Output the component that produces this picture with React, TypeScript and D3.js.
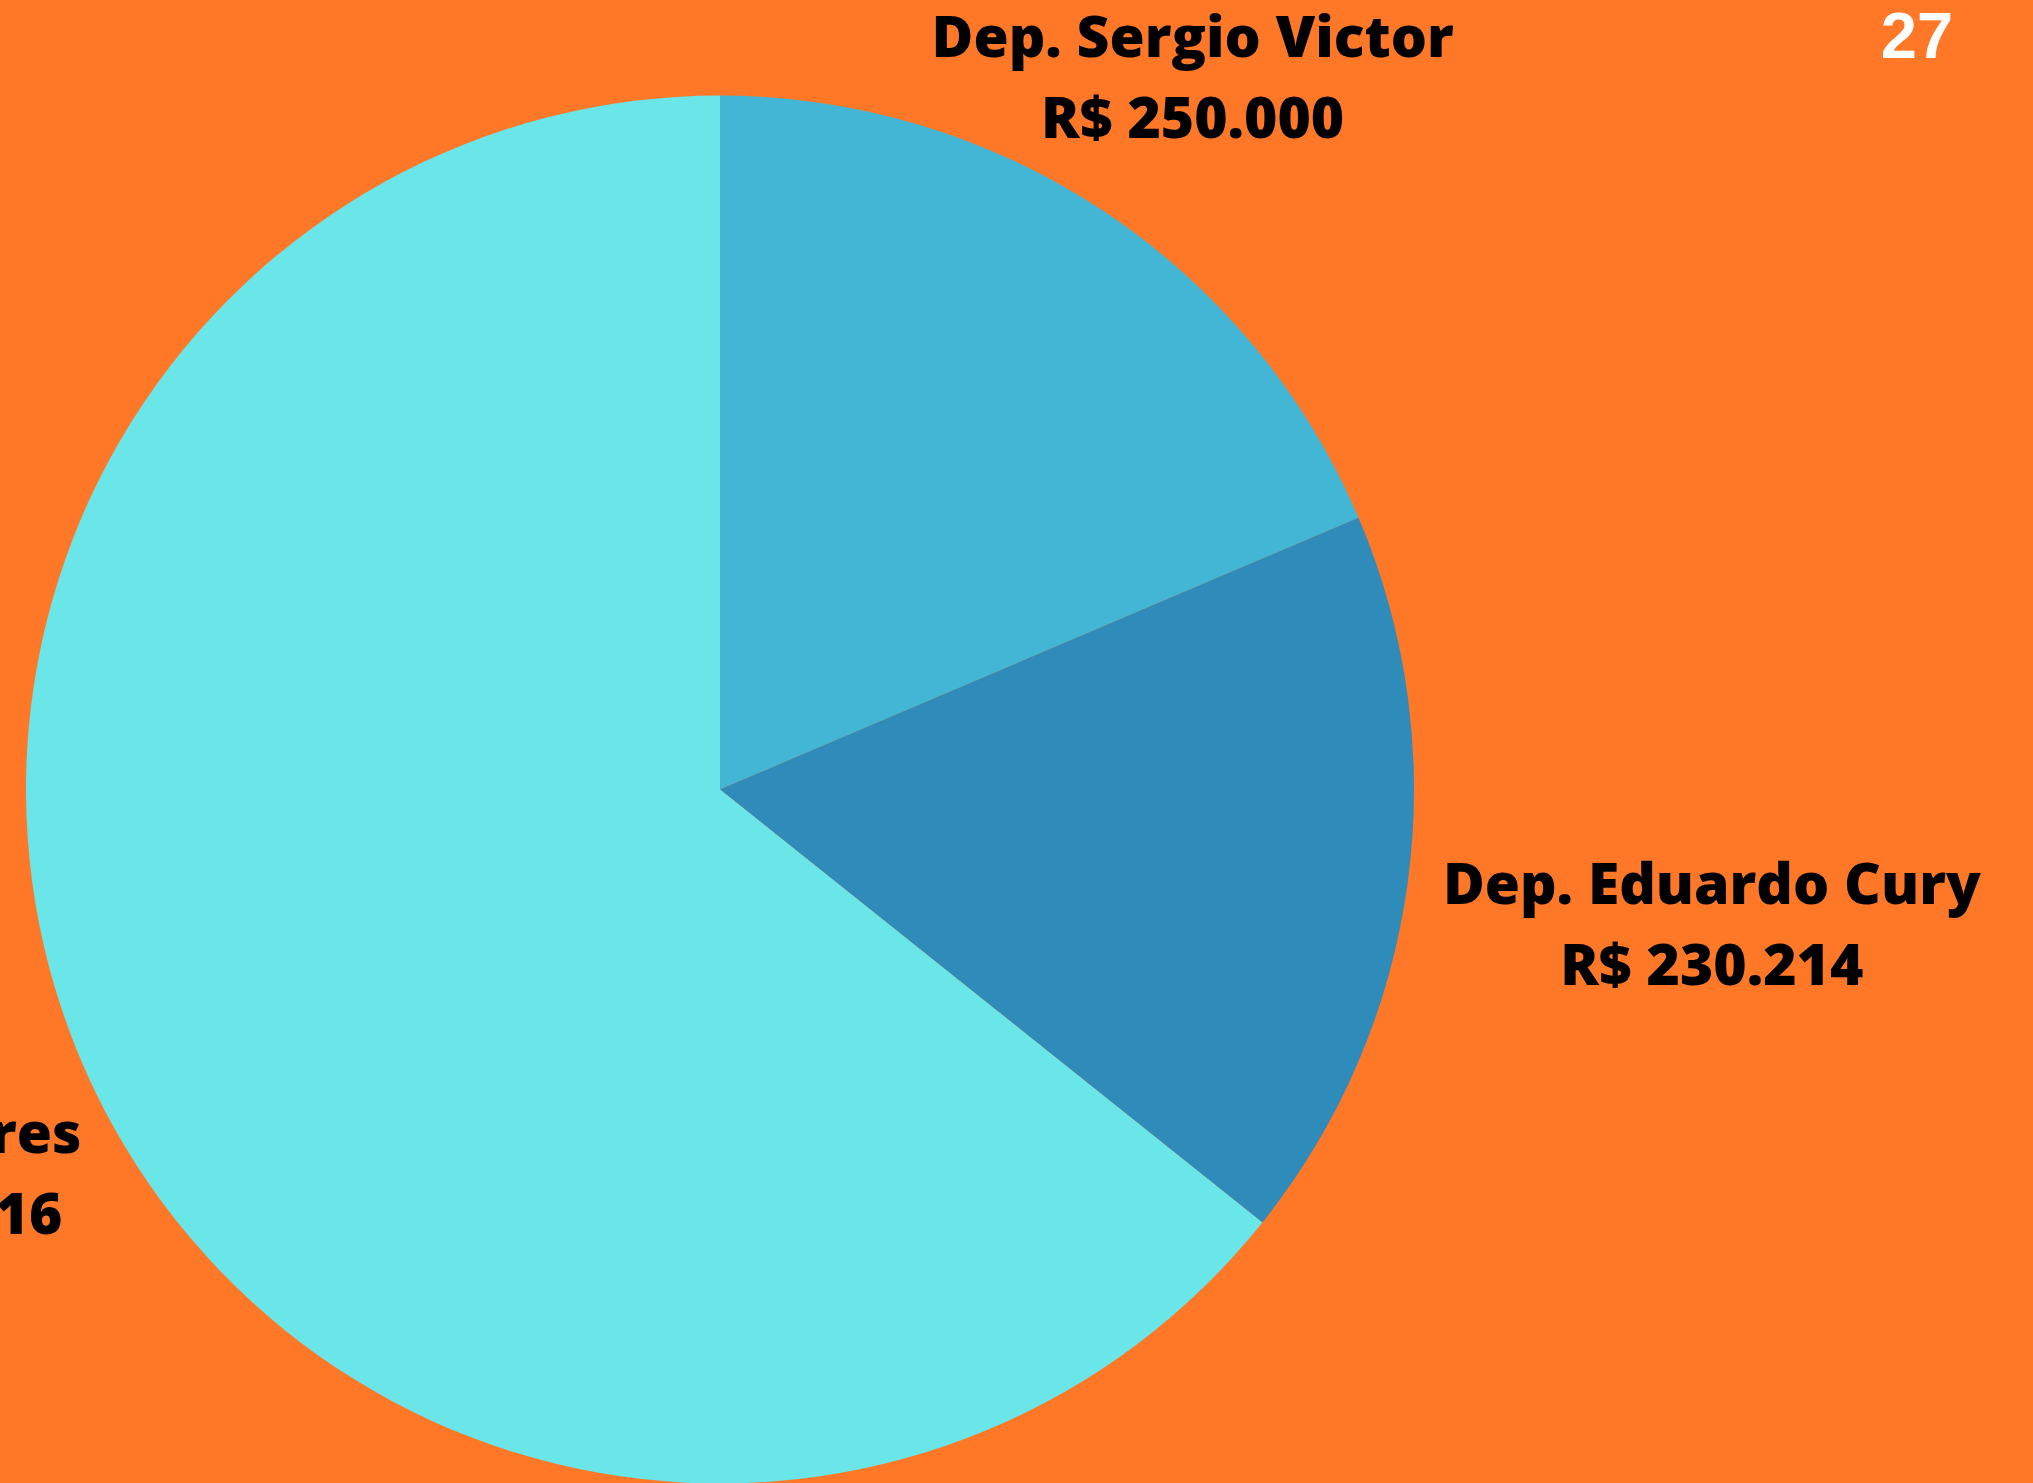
import React, { useEffect } from "react";
import * as d3 from "d3";

// ---- Data ----
const names: string[] = ["Dep. Sergio Victor", "Dep. Eduardo Cury", "Dep. Soares"];
const values: number[] = [250000, 230214, 864116];
const valueLabels: string[] = ["R$ 250.000", "R$ 230.214", "R$ 864.116"];
const sliceColors: string[] = ["#43B6D6", "#2E8BBA", "#6AE5E8"];
const pageNumber = "27";

const W = 2033;
const H = 1483;

export default function App() {
  useEffect(() => {
    document.body.style.margin = "0";
    document.body.style.overflow = "hidden";
  }, []);

  const cx = 720;
  const cy = 789.5;
  const r = 694;

  const pie = d3.pie<number>().sort(null).value((d) => d);
  const arcs = pie(values);
  const arcGen = d3.arc<d3.PieArcDatum<number>>().innerRadius(0).outerRadius(r);

  // label placement: distance from centre along slice mid-angle, plus small vertical nudge
  const labelDist = [857, 1001, 898];
  const labelDy = [3, 0, -5];

  const fontFamily = "'Open Sans', 'Noto Sans', sans-serif";
  const fontSize = 57;
  const lineGap = 81;

  return (
    <svg width={W} height={H} style={{ position: "absolute", left: 0, top: 0, display: "block" }}>
      <rect x={0} y={0} width={W} height={H} fill="#FF7828" />
      <g transform={`translate(${cx},${cy})`}>
        {arcs.map((a, i) => (
          <path key={i} d={arcGen(a) || ""} fill={sliceColors[i]} />
        ))}
        {arcs.map((a, i) => {
          const lab = d3.arc<d3.PieArcDatum<number>>().innerRadius(labelDist[i]).outerRadius(labelDist[i]);
          const [lx, ly] = lab.centroid(a);
          return (
            <g key={"l" + i} transform={`translate(${lx},${ly + labelDy[i]})`}>
              <text
                x={0}
                y={-lineGap / 2 + 20}
                textAnchor="middle"
                fontFamily={fontFamily}
                fontWeight={800}
                fontSize={fontSize}
                fill="#000"
              >
                {names[i]}
              </text>
              <text
                x={0}
                y={lineGap / 2 + 20}
                textAnchor="middle"
                fontFamily={fontFamily}
                fontWeight={800}
                fontSize={fontSize}
                fill="#000"
              >
                {valueLabels[i]}
              </text>
            </g>
          );
        })}
      </g>
      <text
        x={1917}
        y={58}
        textAnchor="middle"
        fontFamily="'Liberation Sans', Arial, sans-serif"
        fontWeight={700}
        fontSize={65}
        fill="#FFFFFF"
      >
        {pageNumber}
      </text>
    </svg>
  );
}
